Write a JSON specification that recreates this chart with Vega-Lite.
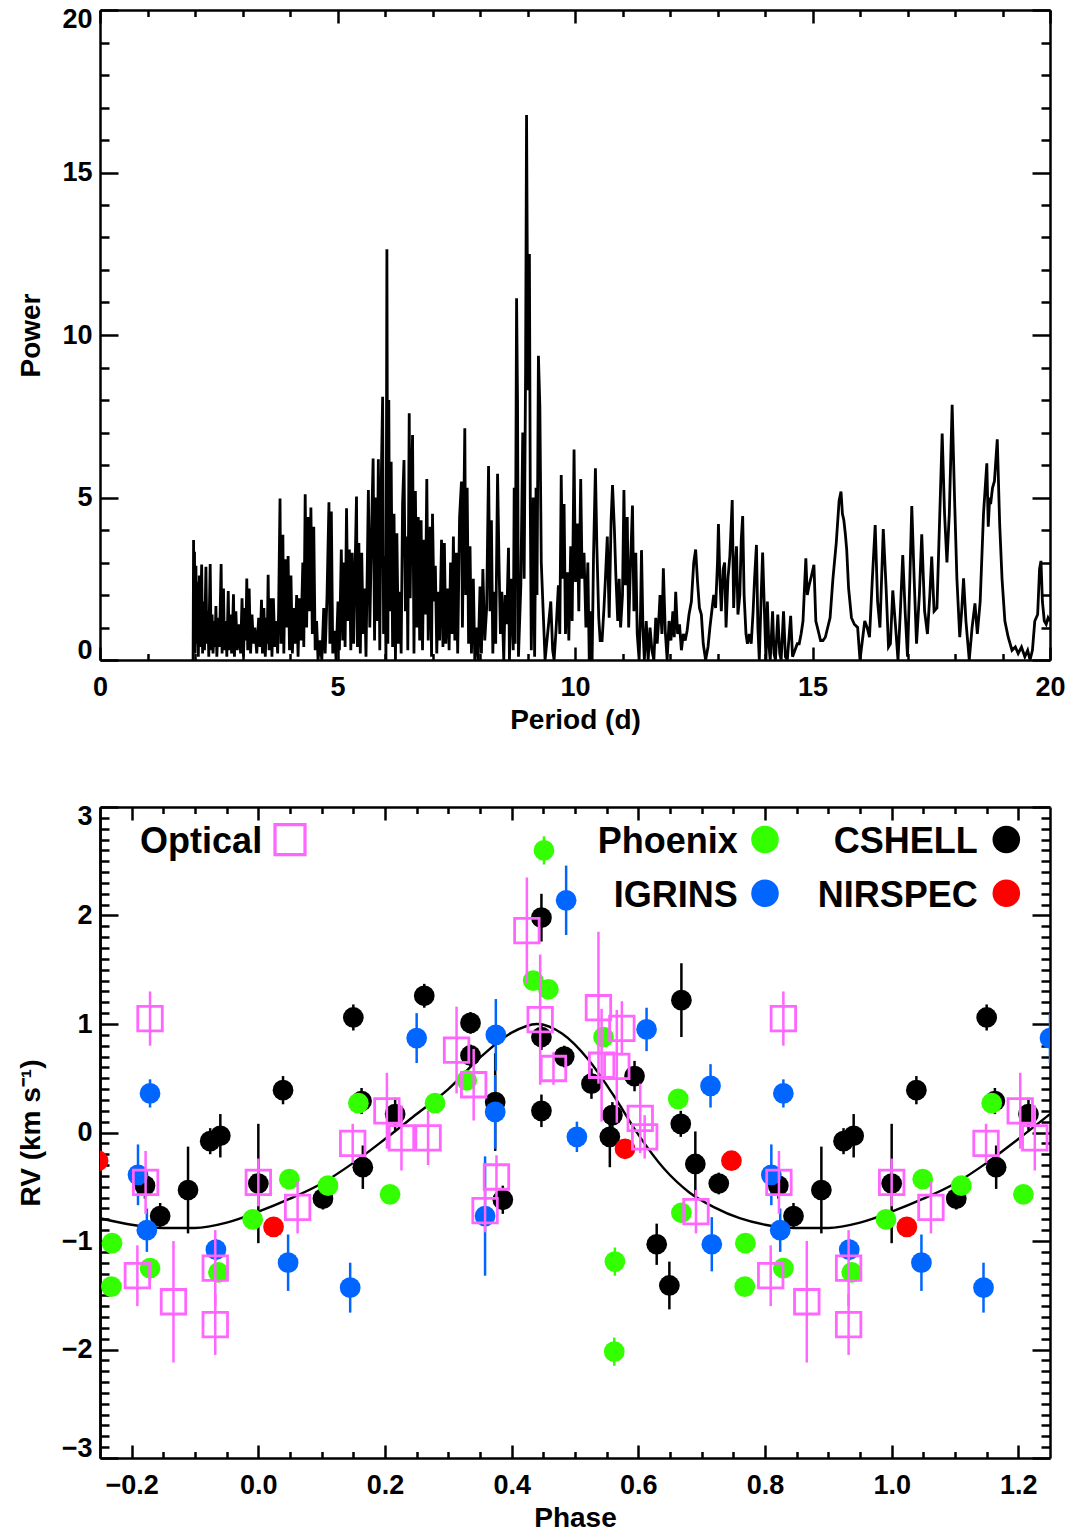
{
"$schema":"https://vega.github.io/schema/vega-lite/v6.json",
"background":"white",
"padding":{"left":17,"top":5,"right":20,"bottom":0},
"config":{
 "view":{"stroke":null},
 "font":"Liberation Sans",
 "axis":{"domainColor":"#000","domainWidth":2.5,"tickColor":"#000","tickWidth":2.5,"labelFont":"Liberation Sans","labelFontSize":27,"labelFontWeight":"bold","labelColor":"#000","labelOverlap":false,"labelBound":false,"labelFlushOffset":4,"titleFont":"Liberation Sans","titleFontSize":28,"titleFontWeight":"bold","titleColor":"#000","grid":false}
},
"datasets":{
"pg":[
{"p":1.96,"w":0},{"p":1.97,"w":3.69},{"p":1.98,"w":0.3},{"p":1.99,"w":3.33},{"p":2.0,"w":0.2},{"p":2.01,"w":1.2},{"p":2.02,"w":2.9},{"p":2.03,"w":0.5},{"p":2.04,"w":1.4},{"p":2.05,"w":2.41},{"p":2.07,"w":0.1},{"p":2.08,"w":1.1},{"p":2.09,"w":2.6},{"p":2.11,"w":0.4},{"p":2.12,"w":1.3},{"p":2.14,"w":2.94},{"p":2.16,"w":0.2},{"p":2.18,"w":1.8},{"p":2.2,"w":0.3},{"p":2.21,"w":1.2},{"p":2.23,"w":2.87},{"p":2.25,"w":0.5},{"p":2.27,"w":1.5},{"p":2.29,"w":0.1},{"p":2.3,"w":1.3},{"p":2.32,"w":2.95},{"p":2.34,"w":0.3},{"p":2.36,"w":1.4},{"p":2.38,"w":0.2},{"p":2.41,"w":1.2},{"p":2.42,"w":0.4},{"p":2.44,"w":1.66},{"p":2.46,"w":0.1},{"p":2.49,"w":1.3},{"p":2.51,"w":0.4},{"p":2.53,"w":1.5},{"p":2.55,"w":2.95},{"p":2.57,"w":0.2},{"p":2.6,"w":2.2},{"p":2.62,"w":0.3},{"p":2.65,"w":1.2},{"p":2.67,"w":0.1},{"p":2.7,"w":2.12},{"p":2.72,"w":0.3},{"p":2.75,"w":1.4},{"p":2.77,"w":0.2},{"p":2.79,"w":1.0},{"p":2.81,"w":2.02},{"p":2.83,"w":0.1},{"p":2.86,"w":1.5},{"p":2.89,"w":0.3},{"p":2.93,"w":1.1},{"p":2.96,"w":0.2},{"p":2.99,"w":1.9},{"p":3.02,"w":0.1},{"p":3.05,"w":1.6},{"p":3.07,"w":0.6},{"p":3.09,"w":2.51},{"p":3.11,"w":0.3},{"p":3.14,"w":2.2},{"p":3.17,"w":0.2},{"p":3.2,"w":1.4},{"p":3.23,"w":0.5},{"p":3.26,"w":1.0},{"p":3.3,"w":0.2},{"p":3.34,"w":1.3},{"p":3.37,"w":0.4},{"p":3.4,"w":1.85},{"p":3.42,"w":0.2},{"p":3.45,"w":1.6},{"p":3.48,"w":0.1},{"p":3.51,"w":1.3},{"p":3.52,"w":0.5},{"p":3.54,"w":2.62},{"p":3.56,"w":0.3},{"p":3.6,"w":1.9},{"p":3.62,"w":0.1},{"p":3.65,"w":1.9},{"p":3.68,"w":0.4},{"p":3.71,"w":1.2},{"p":3.74,"w":0.2},{"p":3.76,"w":1.5},{"p":3.79,"w":4.97},{"p":3.81,"w":0.5},{"p":3.83,"w":1.8},{"p":3.85,"w":3.85},{"p":3.87,"w":0.2},{"p":3.9,"w":3.1},{"p":3.93,"w":1.0},{"p":3.96,"w":3.2},{"p":3.99,"w":0.3},{"p":4.02,"w":2.6},{"p":4.05,"w":0.2},{"p":4.08,"w":1.6},{"p":4.11,"w":0.5},{"p":4.14,"w":2.0},{"p":4.17,"w":0.1},{"p":4.2,"w":1.9},{"p":4.23,"w":0.6},{"p":4.27,"w":3.0},{"p":4.29,"w":0.4},{"p":4.32,"w":5.1},{"p":4.35,"w":1.0},{"p":4.38,"w":4.4},{"p":4.41,"w":1.5},{"p":4.44,"w":4.69},{"p":4.47,"w":0.8},{"p":4.5,"w":4.1},{"p":4.53,"w":0.3},{"p":4.56,"w":1.2},{"p":4.59,"w":0.0},{"p":4.63,"w":0.6},{"p":4.67,"w":0.0},{"p":4.71,"w":1.6},{"p":4.74,"w":0.2},{"p":4.78,"w":2.0},{"p":4.82,"w":4.85},{"p":4.84,"w":0.5},{"p":4.87,"w":4.57},{"p":4.9,"w":0.2},{"p":4.94,"w":0.9},{"p":4.97,"w":0.0},{"p":5.01,"w":1.8},{"p":5.04,"w":0.3},{"p":5.08,"w":3.4},{"p":5.11,"w":0.6},{"p":5.14,"w":3.0},{"p":5.16,"w":0.4},{"p":5.19,"w":4.67},{"p":5.22,"w":1.2},{"p":5.25,"w":3.4},{"p":5.28,"w":0.3},{"p":5.31,"w":3.3},{"p":5.34,"w":0.5},{"p":5.37,"w":2.8},{"p":5.4,"w":5.03},{"p":5.42,"w":0.4},{"p":5.45,"w":3.6},{"p":5.48,"w":0.2},{"p":5.51,"w":3.3},{"p":5.54,"w":0.8},{"p":5.57,"w":2.2},{"p":5.6,"w":0.1},{"p":5.65,"w":5.23},{"p":5.68,"w":1.0},{"p":5.72,"w":4.2},{"p":5.75,"w":6.2},{"p":5.78,"w":0.6},{"p":5.81,"w":5.0},{"p":5.83,"w":1.2},{"p":5.86,"w":6.18},{"p":5.89,"w":0.3},{"p":5.92,"w":5.4},{"p":5.95,"w":8.1},{"p":5.97,"w":0.8},{"p":6.0,"w":3.2},{"p":6.02,"w":0.0},{"p":6.04,"w":12.64},{"p":6.06,"w":0.5},{"p":6.08,"w":8.0},{"p":6.1,"w":1.5},{"p":6.13,"w":6.1},{"p":6.16,"w":0.4},{"p":6.19,"w":4.5},{"p":6.22,"w":0.0},{"p":6.25,"w":3.9},{"p":6.28,"w":0.5},{"p":6.31,"w":2.1},{"p":6.34,"w":0.2},{"p":6.37,"w":4.8},{"p":6.4,"w":6.15},{"p":6.43,"w":1.5},{"p":6.46,"w":3.8},{"p":6.48,"w":0.3},{"p":6.51,"w":7.59},{"p":6.53,"w":1.9},{"p":6.56,"w":5.6},{"p":6.58,"w":6.92},{"p":6.61,"w":0.2},{"p":6.64,"w":5.2},{"p":6.67,"w":1.0},{"p":6.7,"w":4.4},{"p":6.73,"w":0.6},{"p":6.76,"w":4.3},{"p":6.79,"w":0.3},{"p":6.82,"w":3.7},{"p":6.85,"w":1.4},{"p":6.88,"w":5.57},{"p":6.91,"w":0.6},{"p":6.95,"w":4.1},{"p":6.98,"w":0.1},{"p":7.0,"w":4.5},{"p":7.03,"w":1.8},{"p":7.06,"w":2.9},{"p":7.09,"w":0.2},{"p":7.12,"w":2.1},{"p":7.15,"w":0.6},{"p":7.19,"w":3.7},{"p":7.22,"w":0.4},{"p":7.25,"w":3.6},{"p":7.28,"w":0.5},{"p":7.32,"w":2.2},{"p":7.35,"w":0.3},{"p":7.38,"w":3.0},{"p":7.41,"w":0.8},{"p":7.44,"w":3.8},{"p":7.47,"w":0.6},{"p":7.5,"w":3.3},{"p":7.53,"w":0.2},{"p":7.57,"w":4.4},{"p":7.61,"w":5.49},{"p":7.63,"w":1.0},{"p":7.68,"w":7.13},{"p":7.7,"w":2.0},{"p":7.73,"w":5.3},{"p":7.76,"w":0.5},{"p":7.79,"w":3.5},{"p":7.82,"w":0.2},{"p":7.86,"w":2.5},{"p":7.89,"w":0.0},{"p":7.93,"w":1.0},{"p":7.96,"w":0.0},{"p":8.0,"w":2.26},{"p":8.03,"w":0.2},{"p":8.06,"w":2.8},{"p":8.1,"w":0.6},{"p":8.14,"w":1.6},{"p":8.18,"w":5.97},{"p":8.21,"w":1.5},{"p":8.24,"w":4.3},{"p":8.27,"w":0.2},{"p":8.3,"w":2.1},{"p":8.33,"w":0.5},{"p":8.37,"w":5.73},{"p":8.4,"w":3.0},{"p":8.43,"w":0.8},{"p":8.46,"w":2.1},{"p":8.5,"w":0.0},{"p":8.53,"w":2.0},{"p":8.56,"w":1.1},{"p":8.6,"w":3.45},{"p":8.62,"w":0.0},{"p":8.66,"w":2.5},{"p":8.7,"w":0.3},{"p":8.72,"w":5.3},{"p":8.74,"w":0.5},{"p":8.77,"w":11.13},{"p":8.79,"w":8.0},{"p":8.81,"w":0.1},{"p":8.86,"w":2.3},{"p":8.9,"w":7.0},{"p":8.93,"w":2.5},{"p":8.96,"w":9.0},{"p":8.98,"w":16.77},{"p":9.01,"w":8.3},{"p":9.04,"w":12.49},{"p":9.06,"w":4.5},{"p":9.08,"w":0.3},{"p":9.12,"w":5.0},{"p":9.15,"w":0.1},{"p":9.18,"w":5.3},{"p":9.2,"w":2.0},{"p":9.23,"w":9.36},{"p":9.26,"w":7.8},{"p":9.29,"w":3.0},{"p":9.33,"w":1.5},{"p":9.37,"w":0.0},{"p":9.41,"w":0.6},{"p":9.45,"w":1.2},{"p":9.49,"w":1.8},{"p":9.53,"w":0.3},{"p":9.56,"w":0.0},{"p":9.6,"w":0.9},{"p":9.65,"w":2.3},{"p":9.68,"w":0.8},{"p":9.71,"w":5.69},{"p":9.74,"w":2.5},{"p":9.77,"w":4.8},{"p":9.8,"w":0.8},{"p":9.84,"w":2.7},{"p":9.87,"w":0.6},{"p":9.91,"w":3.5},{"p":9.94,"w":1.2},{"p":9.98,"w":6.48},{"p":10.01,"w":2.4},{"p":10.05,"w":4.2},{"p":10.08,"w":1.5},{"p":10.12,"w":5.57},{"p":10.15,"w":2.5},{"p":10.19,"w":3.3},{"p":10.23,"w":1.0},{"p":10.27,"w":3.0},{"p":10.3,"w":0.0},{"p":10.33,"w":1.5},{"p":10.36,"w":0.0},{"p":10.39,"w":3.2},{"p":10.43,"w":5.9},{"p":10.46,"w":3.5},{"p":10.5,"w":1.3},{"p":10.53,"w":0.6},{"p":10.57,"w":0.6},{"p":10.61,"w":1.6},{"p":10.64,"w":2.5},{"p":10.68,"w":3.8},{"p":10.72,"w":1.3},{"p":10.76,"w":4.3},{"p":10.79,"w":5.38},{"p":10.83,"w":4.0},{"p":10.86,"w":2.6},{"p":10.9,"w":1.2},{"p":10.93,"w":2.5},{"p":10.96,"w":1.0},{"p":11.0,"w":2.0},{"p":11.03,"w":5.23},{"p":11.06,"w":2.3},{"p":11.1,"w":4.4},{"p":11.13,"w":1.0},{"p":11.17,"w":3.0},{"p":11.21,"w":4.75},{"p":11.24,"w":1.5},{"p":11.28,"w":3.3},{"p":11.31,"w":0.8},{"p":11.35,"w":0.0},{"p":11.38,"w":1.5},{"p":11.4,"w":3.38},{"p":11.43,"w":1.0},{"p":11.46,"w":0.0},{"p":11.5,"w":1.2},{"p":11.54,"w":0.0},{"p":11.58,"w":1.0},{"p":11.62,"w":0.3},{"p":11.66,"w":0.0},{"p":11.7,"w":1.3},{"p":11.73,"w":0.5},{"p":11.77,"w":1.4},{"p":11.79,"w":2.0},{"p":11.83,"w":0.8},{"p":11.86,"w":2.82},{"p":11.9,"w":0.9},{"p":11.94,"w":0.0},{"p":11.98,"w":1.2},{"p":12.02,"w":0.6},{"p":12.06,"w":1.5},{"p":12.09,"w":0.7},{"p":12.12,"w":2.1},{"p":12.16,"w":0.8},{"p":12.2,"w":1.1},{"p":12.24,"w":0.3},{"p":12.28,"w":0.8},{"p":12.32,"w":0.6},{"p":12.36,"w":0.9},{"p":12.4,"w":1.4},{"p":12.45,"w":1.8},{"p":12.5,"w":3.0},{"p":12.54,"w":3.4},{"p":12.58,"w":2.4},{"p":12.62,"w":1.6},{"p":12.66,"w":1.4},{"p":12.7,"w":0.5},{"p":12.75,"w":0.0},{"p":12.8,"w":0.4},{"p":12.84,"w":1.0},{"p":12.88,"w":1.5},{"p":12.92,"w":2.0},{"p":12.96,"w":1.6},{"p":13.0,"w":3.0},{"p":13.02,"w":4.18},{"p":13.05,"w":2.5},{"p":13.08,"w":1.5},{"p":13.12,"w":2.8},{"p":13.15,"w":3.0},{"p":13.18,"w":1.0},{"p":13.22,"w":2.5},{"p":13.26,"w":3.2},{"p":13.31,"w":4.92},{"p":13.34,"w":1.6},{"p":13.37,"w":2.8},{"p":13.4,"w":3.5},{"p":13.43,"w":1.4},{"p":13.47,"w":2.0},{"p":13.5,"w":3.7},{"p":13.53,"w":4.43},{"p":13.56,"w":2.0},{"p":13.6,"w":0.8},{"p":13.63,"w":0.5},{"p":13.67,"w":0.8},{"p":13.71,"w":0.5},{"p":13.75,"w":1.5},{"p":13.78,"w":2.5},{"p":13.82,"w":3.54},{"p":13.85,"w":1.0},{"p":13.88,"w":0.0},{"p":13.92,"w":2.0},{"p":13.95,"w":3.31},{"p":13.99,"w":1.4},{"p":14.02,"w":0.0},{"p":14.05,"w":1.8},{"p":14.08,"w":0.5},{"p":14.11,"w":0.0},{"p":14.16,"w":1.5},{"p":14.19,"w":0.2},{"p":14.22,"w":0.0},{"p":14.27,"w":1.4},{"p":14.31,"w":0.2},{"p":14.34,"w":0.0},{"p":14.39,"w":1.5},{"p":14.43,"w":0.1},{"p":14.47,"w":0.0},{"p":14.54,"w":1.36},{"p":14.58,"w":0.1},{"p":14.63,"w":0.3},{"p":14.68,"w":0.5},{"p":14.72,"w":0.5},{"p":14.76,"w":0.8},{"p":14.8,"w":1.2},{"p":14.84,"w":2.5},{"p":14.86,"w":3.13},{"p":14.89,"w":2.0},{"p":14.93,"w":2.3},{"p":14.98,"w":2.6},{"p":15.03,"w":2.93},{"p":15.07,"w":1.2},{"p":15.12,"w":0.9},{"p":15.17,"w":0.6},{"p":15.22,"w":0.6},{"p":15.27,"w":0.7},{"p":15.32,"w":1.0},{"p":15.37,"w":1.3},{"p":15.43,"w":2.5},{"p":15.5,"w":3.6},{"p":15.56,"w":4.9},{"p":15.6,"w":5.18},{"p":15.63,"w":4.5},{"p":15.66,"w":4.3},{"p":15.69,"w":3.9},{"p":15.72,"w":3.4},{"p":15.76,"w":2.2},{"p":15.82,"w":1.3},{"p":15.88,"w":1.1},{"p":15.95,"w":1.0},{"p":16.0,"w":0.0},{"p":16.05,"w":0.6},{"p":16.1,"w":1.2},{"p":16.15,"w":1.0},{"p":16.2,"w":0.7},{"p":16.26,"w":2.5},{"p":16.32,"w":4.15},{"p":16.37,"w":1.8},{"p":16.42,"w":1.0},{"p":16.49,"w":4.03},{"p":16.55,"w":2.2},{"p":16.6,"w":0.4},{"p":16.64,"w":0.5},{"p":16.69,"w":2.14},{"p":16.75,"w":1.0},{"p":16.8,"w":0.0},{"p":16.85,"w":1.5},{"p":16.9,"w":3.23},{"p":16.95,"w":1.5},{"p":17.0,"w":0.1},{"p":17.05,"w":2.5},{"p":17.09,"w":4.74},{"p":17.14,"w":2.5},{"p":17.19,"w":0.5},{"p":17.25,"w":2.0},{"p":17.3,"w":3.87},{"p":17.36,"w":1.5},{"p":17.42,"w":0.8},{"p":17.47,"w":2.0},{"p":17.51,"w":3.18},{"p":17.56,"w":1.5},{"p":17.62,"w":1.6},{"p":17.68,"w":4.5},{"p":17.73,"w":6.97},{"p":17.78,"w":4.5},{"p":17.83,"w":3.0},{"p":17.88,"w":4.5},{"p":17.94,"w":7.85},{"p":17.99,"w":5.0},{"p":18.04,"w":2.5},{"p":18.1,"w":0.7},{"p":18.14,"w":1.5},{"p":18.18,"w":2.51},{"p":18.23,"w":1.2},{"p":18.3,"w":0.0},{"p":18.36,"w":1.0},{"p":18.42,"w":1.74},{"p":18.47,"w":0.8},{"p":18.53,"w":1.8},{"p":18.6,"w":4.5},{"p":18.67,"w":6.05},{"p":18.7,"w":4.1},{"p":18.73,"w":5.0},{"p":18.75,"w":4.8},{"p":18.79,"w":5.3},{"p":18.83,"w":5.5},{"p":18.89,"w":6.79},{"p":18.94,"w":4.2},{"p":18.99,"w":2.5},{"p":19.05,"w":1.2},{"p":19.12,"w":0.7},{"p":19.2,"w":0.3},{"p":19.27,"w":0.4},{"p":19.33,"w":0.2},{"p":19.4,"w":0.4},{"p":19.47,"w":0.1},{"p":19.53,"w":0.3},{"p":19.58,"w":0.0},{"p":19.63,"w":0.3},{"p":19.68,"w":1.2},{"p":19.74,"w":1.4},{"p":19.78,"w":2.8},{"p":19.81,"w":3.05},{"p":19.84,"w":1.8},{"p":19.88,"w":1.2},{"p":19.92,"w":1.1},{"p":19.96,"w":1.3},{"p":20.0,"w":1.2}
],
"curve":[
{"x":-0.25,"y":-0.79},{"x":-0.2,"y":-0.85},{"x":-0.15,"y":-0.88},{"x":-0.1,"y":-0.88},{"x":-0.05,"y":-0.83},{"x":0.0,"y":-0.73},{"x":0.05,"y":-0.61},{"x":0.1,"y":-0.47},{"x":0.15,"y":-0.28},{"x":0.2,"y":-0.06},{"x":0.25,"y":0.17},{"x":0.3,"y":0.4},{"x":0.35,"y":0.69},{"x":0.4,"y":0.92},{"x":0.44,"y":1.0},{"x":0.48,"y":0.91},{"x":0.52,"y":0.68},{"x":0.56,"y":0.35},{"x":0.6,"y":-0.02},{"x":0.64,"y":-0.33},{"x":0.68,"y":-0.55},{"x":0.72,"y":-0.69},{"x":0.76,"y":-0.79},{"x":0.8,"y":-0.85},{"x":0.85,"y":-0.88},{"x":0.9,"y":-0.88},{"x":0.95,"y":-0.83},{"x":1.0,"y":-0.73},{"x":1.05,"y":-0.61},{"x":1.1,"y":-0.47},{"x":1.15,"y":-0.28},{"x":1.2,"y":-0.06},{"x":1.25,"y":0.17}
],
"rv":[
{"x":-0.179,"y":-0.49,"e":0.12,"inst":"CSHELL"},{"x":0.821,"y":-0.49,"e":0.12,"inst":"CSHELL"},
{"x":-0.155,"y":-0.77,"e":0.12,"inst":"CSHELL"},{"x":0.845,"y":-0.77,"e":0.12,"inst":"CSHELL"},
{"x":-0.111,"y":-0.53,"e":0.4,"inst":"CSHELL"},{"x":0.889,"y":-0.53,"e":0.4,"inst":"CSHELL"},
{"x":-0.076,"y":-0.08,"e":0.12,"inst":"CSHELL"},{"x":0.924,"y":-0.08,"e":0.12,"inst":"CSHELL"},
{"x":-0.06,"y":-0.03,"e":0.2,"inst":"CSHELL"},{"x":0.94,"y":-0.03,"e":0.2,"inst":"CSHELL"},
{"x":0.0,"y":-0.47,"e":0.55,"inst":"CSHELL"},{"x":1.0,"y":-0.47,"e":0.55,"inst":"CSHELL"},
{"x":0.039,"y":0.39,"e":0.13,"inst":"CSHELL"},{"x":1.039,"y":0.39,"e":0.13,"inst":"CSHELL"},
{"x":0.102,"y":-0.61,"e":0.1,"inst":"CSHELL"},{"x":1.102,"y":-0.61,"e":0.1,"inst":"CSHELL"},
{"x":0.15,"y":1.06,"e":0.12,"inst":"CSHELL"},{"x":1.15,"y":1.06,"e":0.12,"inst":"CSHELL"},
{"x":0.165,"y":-0.32,"e":0.2,"inst":"CSHELL"},{"x":1.165,"y":-0.32,"e":0.2,"inst":"CSHELL"},
{"x":0.163,"y":0.29,"e":0.12,"inst":"CSHELL"},{"x":1.163,"y":0.29,"e":0.12,"inst":"CSHELL"},
{"x":0.216,"y":0.17,"e":0.15,"inst":"CSHELL"},{"x":1.216,"y":0.17,"e":0.15,"inst":"CSHELL"},
{"x":0.262,"y":1.26,"e":0.11,"inst":"CSHELL"},{"x":0.335,"y":1.01,"e":0.1,"inst":"CSHELL"},{"x":0.335,"y":0.71,"e":0.1,"inst":"CSHELL"},
{"x":0.374,"y":0.28,"e":0.45,"inst":"CSHELL"},{"x":0.386,"y":-0.62,"e":0.13,"inst":"CSHELL"},
{"x":0.447,"y":1.98,"e":0.22,"inst":"CSHELL"},{"x":0.447,"y":0.88,"e":0.12,"inst":"CSHELL"},{"x":0.447,"y":0.2,"e":0.15,"inst":"CSHELL"},
{"x":0.483,"y":0.7,"e":0.1,"inst":"CSHELL"},{"x":0.526,"y":0.45,"e":0.14,"inst":"CSHELL"},{"x":0.559,"y":0.16,"e":0.12,"inst":"CSHELL"},{"x":0.555,"y":-0.04,"e":0.28,"inst":"CSHELL"},
{"x":0.594,"y":0.52,"e":0.14,"inst":"CSHELL"},{"x":0.668,"y":1.22,"e":0.34,"inst":"CSHELL"},{"x":0.667,"y":0.08,"e":0.12,"inst":"CSHELL"},
{"x":0.69,"y":-0.29,"e":0.3,"inst":"CSHELL"},{"x":0.727,"y":-0.47,"e":0.1,"inst":"CSHELL"},{"x":0.629,"y":-1.03,"e":0.19,"inst":"CSHELL"},{"x":0.649,"y":-1.41,"e":0.22,"inst":"CSHELL"},
{"x":-0.231,"y":-1.02,"e":0.08,"inst":"Phoenix"},{"x":0.769,"y":-1.02,"e":0.08,"inst":"Phoenix"},
{"x":-0.232,"y":-1.42,"e":0.08,"inst":"Phoenix"},{"x":0.768,"y":-1.42,"e":0.08,"inst":"Phoenix"},
{"x":-0.171,"y":-1.25,"e":0.08,"inst":"Phoenix"},{"x":0.829,"y":-1.25,"e":0.08,"inst":"Phoenix"},
{"x":-0.063,"y":-1.29,"e":0.08,"inst":"Phoenix"},{"x":0.937,"y":-1.29,"e":0.08,"inst":"Phoenix"},
{"x":-0.009,"y":-0.8,"e":0.08,"inst":"Phoenix"},{"x":0.991,"y":-0.8,"e":0.08,"inst":"Phoenix"},
{"x":0.049,"y":-0.43,"e":0.08,"inst":"Phoenix"},{"x":1.049,"y":-0.43,"e":0.08,"inst":"Phoenix"},
{"x":0.11,"y":-0.49,"e":0.08,"inst":"Phoenix"},{"x":1.11,"y":-0.49,"e":0.08,"inst":"Phoenix"},
{"x":0.158,"y":0.27,"e":0.08,"inst":"Phoenix"},{"x":1.158,"y":0.27,"e":0.08,"inst":"Phoenix"},
{"x":0.208,"y":-0.57,"e":0.08,"inst":"Phoenix"},{"x":1.208,"y":-0.57,"e":0.08,"inst":"Phoenix"},
{"x":0.279,"y":0.27,"e":0.08,"inst":"Phoenix"},{"x":0.329,"y":0.48,"e":0.08,"inst":"Phoenix"},{"x":0.434,"y":1.4,"e":0.08,"inst":"Phoenix"},{"x":0.458,"y":1.32,"e":0.08,"inst":"Phoenix"},
{"x":0.451,"y":2.6,"e":0.13,"inst":"Phoenix"},{"x":0.545,"y":0.88,"e":0.08,"inst":"Phoenix"},{"x":0.663,"y":0.31,"e":0.08,"inst":"Phoenix"},
{"x":0.563,"y":-1.19,"e":0.13,"inst":"Phoenix"},{"x":0.562,"y":-2.02,"e":0.13,"inst":"Phoenix"},{"x":0.668,"y":-0.74,"e":0.08,"inst":"Phoenix"},
{"x":-0.19,"y":-0.39,"e":0.28,"inst":"IGRINS"},{"x":0.81,"y":-0.39,"e":0.28,"inst":"IGRINS"},
{"x":-0.171,"y":0.36,"e":0.13,"inst":"IGRINS"},{"x":0.829,"y":0.36,"e":0.13,"inst":"IGRINS"},
{"x":-0.176,"y":-0.9,"e":0.2,"inst":"IGRINS"},{"x":0.824,"y":-0.9,"e":0.2,"inst":"IGRINS"},
{"x":-0.067,"y":-1.08,"e":0.1,"inst":"IGRINS"},{"x":0.933,"y":-1.08,"e":0.1,"inst":"IGRINS"},
{"x":0.047,"y":-1.2,"e":0.26,"inst":"IGRINS"},{"x":1.047,"y":-1.2,"e":0.26,"inst":"IGRINS"},
{"x":0.145,"y":-1.43,"e":0.23,"inst":"IGRINS"},{"x":1.145,"y":-1.43,"e":0.23,"inst":"IGRINS"},
{"x":0.25,"y":0.87,"e":0.23,"inst":"IGRINS"},{"x":1.25,"y":0.87,"e":0.23,"inst":"IGRINS"},
{"x":0.375,"y":0.9,"e":0.33,"inst":"IGRINS"},{"x":0.374,"y":0.19,"e":0.34,"inst":"IGRINS"},{"x":0.358,"y":-0.77,"e":0.55,"inst":"IGRINS"},
{"x":0.486,"y":2.14,"e":0.32,"inst":"IGRINS"},{"x":0.503,"y":-0.04,"e":0.14,"inst":"IGRINS"},{"x":0.613,"y":0.95,"e":0.2,"inst":"IGRINS"},
{"x":0.714,"y":0.43,"e":0.2,"inst":"IGRINS"},{"x":0.716,"y":-1.03,"e":0.25,"inst":"IGRINS"},
{"x":-0.253,"y":-0.26,"e":0.05,"inst":"NIRSPEC"},{"x":0.747,"y":-0.26,"e":0.05,"inst":"NIRSPEC"},
{"x":0.024,"y":-0.87,"e":0.05,"inst":"NIRSPEC"},{"x":1.024,"y":-0.87,"e":0.05,"inst":"NIRSPEC"},
{"x":0.579,"y":-0.15,"e":0.05,"inst":"NIRSPEC"},
{"x":-0.171,"y":1.05,"e":0.25,"inst":"Optical"},{"x":0.829,"y":1.05,"e":0.25,"inst":"Optical"},
{"x":-0.178,"y":-0.46,"e":0.29,"inst":"Optical"},{"x":0.822,"y":-0.46,"e":0.29,"inst":"Optical"},
{"x":-0.191,"y":-1.32,"e":0.28,"inst":"Optical"},{"x":0.809,"y":-1.32,"e":0.28,"inst":"Optical"},
{"x":-0.134,"y":-1.56,"e":0.56,"inst":"Optical"},{"x":0.866,"y":-1.56,"e":0.56,"inst":"Optical"},
{"x":-0.068,"y":-1.25,"e":0.35,"inst":"Optical"},{"x":0.932,"y":-1.25,"e":0.35,"inst":"Optical"},
{"x":-0.068,"y":-1.77,"e":0.28,"inst":"Optical"},{"x":0.932,"y":-1.77,"e":0.28,"inst":"Optical"},
{"x":0.0,"y":-0.46,"e":0.22,"inst":"Optical"},{"x":1.0,"y":-0.46,"e":0.22,"inst":"Optical"},
{"x":0.062,"y":-0.69,"e":0.24,"inst":"Optical"},{"x":1.062,"y":-0.69,"e":0.24,"inst":"Optical"},
{"x":0.149,"y":-0.1,"e":0.18,"inst":"Optical"},{"x":1.149,"y":-0.1,"e":0.18,"inst":"Optical"},
{"x":0.203,"y":0.2,"e":0.35,"inst":"Optical"},{"x":1.203,"y":0.2,"e":0.35,"inst":"Optical"},
{"x":0.226,"y":-0.05,"e":0.3,"inst":"Optical"},{"x":1.226,"y":-0.05,"e":0.3,"inst":"Optical"},
{"x":0.268,"y":-0.05,"e":0.25,"inst":"Optical"},{"x":0.313,"y":0.76,"e":0.4,"inst":"Optical"},{"x":0.34,"y":0.44,"e":0.33,"inst":"Optical"},
{"x":0.424,"y":1.86,"e":0.49,"inst":"Optical"},{"x":0.445,"y":1.04,"e":0.6,"inst":"Optical"},{"x":0.466,"y":0.59,"e":0.15,"inst":"Optical"},
{"x":0.537,"y":1.15,"e":0.7,"inst":"Optical"},{"x":0.574,"y":0.96,"e":0.25,"inst":"Optical"},{"x":0.542,"y":0.62,"e":0.52,"inst":"Optical"},
{"x":0.566,"y":0.61,"e":0.52,"inst":"Optical"},{"x":0.603,"y":0.13,"e":0.32,"inst":"Optical"},{"x":0.61,"y":-0.04,"e":0.2,"inst":"Optical"},
{"x":0.376,"y":-0.41,"e":0.2,"inst":"Optical"},{"x":0.358,"y":-0.72,"e":0.2,"inst":"Optical"},{"x":0.691,"y":-0.73,"e":0.2,"inst":"Optical"}
],
"leg":[
{"label":"Optical","tx":0.006,"ty":2.575,"sx":0.05,"sy":2.7,"inst":"Optical"},
{"label":"Phoenix","tx":0.757,"ty":2.58,"sx":0.8,"sy":2.7,"inst":"Phoenix"},
{"label":"CSHELL","tx":1.136,"ty":2.58,"sx":1.181,"sy":2.7,"inst":"CSHELL"},
{"label":"IGRINS","tx":0.757,"ty":2.075,"sx":0.8,"sy":2.205,"inst":"IGRINS"},
{"label":"NIRSPEC","tx":1.136,"ty":2.075,"sx":1.181,"sy":2.205,"inst":"NIRSPEC"}
]
},
"spacing":67,
"vconcat":[
{
 "width":950,"height":650,
 "data":{"name":"pg"},
 "layer":[
  {"mark":{"type":"line","color":"#000","strokeWidth":2.8,"clip":true},
   "encoding":{
    "x":{"field":"p","type":"quantitative","scale":{"domain":[0,20],"nice":false,"zero":false},
     "axis":{"orient":"bottom","values":[0,1,2,3,4,5,6,7,8,9,10,11,12,13,14,15,16,17,18,19,20],"format":"d","labelExpr":"datum.value % 5 == 0 ? datum.label : ''","tickSize":{"condition":{"test":"datum.value % 5 == 0","value":-13},"value":-6.5},"labelPadding":27,"labelFlush":false,"title":"Period (d)","titlePadding":0}},
    "y":{"field":"w","type":"quantitative","scale":{"domain":[0,20],"nice":false,"zero":false},
     "axis":{"orient":"left","values":[0,1,2,3,4,5,6,7,8,9,10,11,12,13,14,15,16,17,18,19,20],"format":"d","labelExpr":"datum.value % 5 == 0 ? datum.label : ''","tickSize":{"condition":{"test":"datum.value % 5 == 0","value":-18},"value":-9},"labelPadding":26,"labelFlush":true,"title":"Power","titlePadding":16}}
   }},
  {"mark":{"type":"line","opacity":0},
   "encoding":{
    "x":{"field":"p","type":"quantitative","scale":{"domain":[0,20],"nice":false,"zero":false},
     "axis":{"orient":"top","values":[0,1,2,3,4,5,6,7,8,9,10,11,12,13,14,15,16,17,18,19,20],"labels":false,"tickSize":{"condition":{"test":"datum.value % 5 == 0","value":-13},"value":-6.5},"title":null}},
    "y":{"field":"w","type":"quantitative","scale":{"domain":[0,20],"nice":false,"zero":false},
     "axis":{"orient":"right","values":[0,1,2,3,4,5,6,7,8,9,10,11,12,13,14,15,16,17,18,19,20],"labels":false,"tickSize":{"condition":{"test":"datum.value % 5 == 0","value":-18},"value":-9},"title":null}}
   }}
 ],
 "resolve":{"axis":{"x":"independent","y":"independent"}}
},
{
 "width":950,"height":651,
 "layer":[
  {"data":{"name":"curve"},
   "mark":{"type":"line","color":"#000","strokeWidth":2.4,"interpolate":"monotone"},
   "encoding":{
    "x":{"field":"x","type":"quantitative","scale":{"domain":[-0.25,1.25],"nice":false,"zero":false},
     "axis":{"orient":"bottom","values":[-0.2,-0.15,-0.1,-0.05,0,0.05,0.1,0.15,0.2,0.25,0.3,0.35,0.4,0.45,0.5,0.55,0.6,0.65,0.7,0.75,0.8,0.85,0.9,0.95,1,1.05,1.1,1.15,1.2],"format":".1f","labelExpr":"abs(datum.value*5-round(datum.value*5))<0.001 ? datum.label : ''","tickSize":{"condition":{"test":"abs(datum.value*5-round(datum.value*5))<0.001","value":-13},"value":-6.5},"labelPadding":27,"labelFlush":false,"title":"Phase","titlePadding":0}},
    "y":{"field":"y","type":"quantitative","scale":{"domain":[-3,3],"nice":false,"zero":false},
     "axis":{"orient":"left","values":[-3,-2,-1,0,1,2,3],"format":"d","tickSize":-18,"labelPadding":26,"labelFlush":true,"title":"RV (km s⁻¹)","titlePadding":16}}
   }},
  {"data":{"name":"rv"},
   "transform":[{"filter":"datum.inst != 'Optical'"}],
   "mark":{"type":"errorbar","thickness":2.5,"rule":{"strokeWidth":2.5},"clip":true},
   "encoding":{
    "x":{"field":"x","type":"quantitative","scale":{"domain":[-0.25,1.25],"nice":false,"zero":false},"axis":null},
    "y":{"field":"y","type":"quantitative","scale":{"domain":[-3,3],"nice":false,"zero":false},"axis":null},
    "yError":{"field":"e"},
    "color":{"field":"inst","type":"nominal","scale":{"domain":["CSHELL","Phoenix","IGRINS","NIRSPEC","Optical"],"range":["#000000","#33ff00","#0066ff","#ff0000","#ff66ff"]},"legend":null}
   }},
  {"data":{"name":"rv"},
   "transform":[{"filter":"datum.inst != 'Optical'"}],
   "mark":{"type":"point","shape":"circle","filled":true,"size":430,"opacity":1,"clip":true},
   "encoding":{
    "x":{"field":"x","type":"quantitative","scale":{"domain":[-0.25,1.25],"nice":false,"zero":false},"axis":null},
    "y":{"field":"y","type":"quantitative","scale":{"domain":[-3,3],"nice":false,"zero":false},"axis":null},
    "color":{"field":"inst","type":"nominal","scale":{"domain":["CSHELL","Phoenix","IGRINS","NIRSPEC","Optical"],"range":["#000000","#33ff00","#0066ff","#ff0000","#ff66ff"]},"legend":null}
   }},
  {"data":{"name":"rv"},
   "transform":[{"filter":"datum.inst == 'Optical'"}],
   "mark":{"type":"errorbar","thickness":2.5,"rule":{"strokeWidth":2.5},"color":"#ff66ff","clip":true},
   "encoding":{
    "x":{"field":"x","type":"quantitative","scale":{"domain":[-0.25,1.25],"nice":false,"zero":false},"axis":null},
    "y":{"field":"y","type":"quantitative","scale":{"domain":[-3,3],"nice":false,"zero":false},"axis":null},
    "yError":{"field":"e"}
   }},
  {"data":{"name":"rv"},
   "transform":[{"filter":"datum.inst == 'Optical'"}],
   "mark":{"type":"point","shape":"square","filled":false,"size":600,"strokeWidth":2.8,"color":"#ff66ff","opacity":1,"clip":true},
   "encoding":{
    "x":{"field":"x","type":"quantitative","scale":{"domain":[-0.25,1.25],"nice":false,"zero":false},"axis":null},
    "y":{"field":"y","type":"quantitative","scale":{"domain":[-3,3],"nice":false,"zero":false},"axis":null}
   }},
  {"data":{"name":"leg"},
   "mark":{"type":"text","align":"right","baseline":"alphabetic","fontSize":36,"fontWeight":"bold","font":"Liberation Sans","color":"#000"},
   "encoding":{
    "x":{"field":"tx","type":"quantitative","scale":{"domain":[-0.25,1.25],"nice":false,"zero":false},"axis":null},
    "y":{"field":"ty","type":"quantitative","scale":{"domain":[-3,3],"nice":false,"zero":false},"axis":null},
    "text":{"field":"label"}
   }},
  {"data":{"name":"leg"},
   "transform":[{"filter":"datum.inst != 'Optical'"}],
   "mark":{"type":"point","shape":"circle","filled":true,"size":760,"opacity":1},
   "encoding":{
    "x":{"field":"sx","type":"quantitative","scale":{"domain":[-0.25,1.25],"nice":false,"zero":false},"axis":null},
    "y":{"field":"sy","type":"quantitative","scale":{"domain":[-3,3],"nice":false,"zero":false},"axis":null},
    "color":{"field":"inst","type":"nominal","scale":{"domain":["CSHELL","Phoenix","IGRINS","NIRSPEC","Optical"],"range":["#000000","#33ff00","#0066ff","#ff0000","#ff66ff"]},"legend":null}
   }},
  {"data":{"name":"leg"},
   "transform":[{"filter":"datum.inst == 'Optical'"}],
   "mark":{"type":"point","shape":"square","filled":false,"size":900,"strokeWidth":3.2,"color":"#ff66ff","opacity":1},
   "encoding":{
    "x":{"field":"sx","type":"quantitative","scale":{"domain":[-0.25,1.25],"nice":false,"zero":false},"axis":null},
    "y":{"field":"sy","type":"quantitative","scale":{"domain":[-3,3],"nice":false,"zero":false},"axis":null}
   }},
  {"data":{"name":"curve"},
   "mark":{"type":"line","opacity":0},
   "encoding":{
    "x":{"field":"x","type":"quantitative","scale":{"domain":[-0.25,1.25],"nice":false,"zero":false},
     "axis":{"orient":"top","values":[-0.2,-0.15,-0.1,-0.05,0,0.05,0.1,0.15,0.2,0.25,0.3,0.35,0.4,0.45,0.5,0.55,0.6,0.65,0.7,0.75,0.8,0.85,0.9,0.95,1,1.05,1.1,1.15,1.2],"labels":false,"tickSize":{"condition":{"test":"abs(datum.value*5-round(datum.value*5))<0.001","value":-13},"value":-6.5},"title":null}},
    "y":{"field":"y","type":"quantitative","scale":{"domain":[-3,3],"nice":false,"zero":false},
     "axis":{"orient":"left","values":[-2.9,-2.8,-2.7,-2.6,-2.5,-2.4,-2.3,-2.2,-2.1,-1.9,-1.8,-1.7,-1.6,-1.5,-1.4,-1.3,-1.2,-1.1,-0.9,-0.8,-0.7,-0.6,-0.5,-0.4,-0.3,-0.2,-0.1,0.1,0.2,0.3,0.4,0.5,0.6,0.7,0.8,0.9,1.1,1.2,1.3,1.4,1.5,1.6,1.7,1.8,1.9,2.1,2.2,2.3,2.4,2.5,2.6,2.7,2.8,2.9],"labels":false,"tickSize":-9,"title":null}}
   }},
  {"data":{"name":"curve"},
   "mark":{"type":"line","opacity":0},
   "encoding":{
    "x":{"field":"x","type":"quantitative","scale":{"domain":[-0.25,1.25],"nice":false,"zero":false},"axis":null},
    "y":{"field":"y","type":"quantitative","scale":{"domain":[-3,3],"nice":false,"zero":false},
     "axis":{"orient":"right","values":[-3,-2.9,-2.8,-2.7,-2.6,-2.5,-2.4,-2.3,-2.2,-2.1,-2,-1.9,-1.8,-1.7,-1.6,-1.5,-1.4,-1.3,-1.2,-1.1,-1,-0.9,-0.8,-0.7,-0.6,-0.5,-0.4,-0.3,-0.2,-0.1,0,0.1,0.2,0.3,0.4,0.5,0.6,0.7,0.8,0.9,1,1.1,1.2,1.3,1.4,1.5,1.6,1.7,1.8,1.9,2,2.1,2.2,2.3,2.4,2.5,2.6,2.7,2.8,2.9,3],"labels":false,"tickSize":{"condition":{"test":"abs(datum.value-round(datum.value))<0.001","value":-18},"value":-9},"title":null}}
   }}
 ],
 "resolve":{"axis":{"x":"independent","y":"independent"}}
}
]
}
